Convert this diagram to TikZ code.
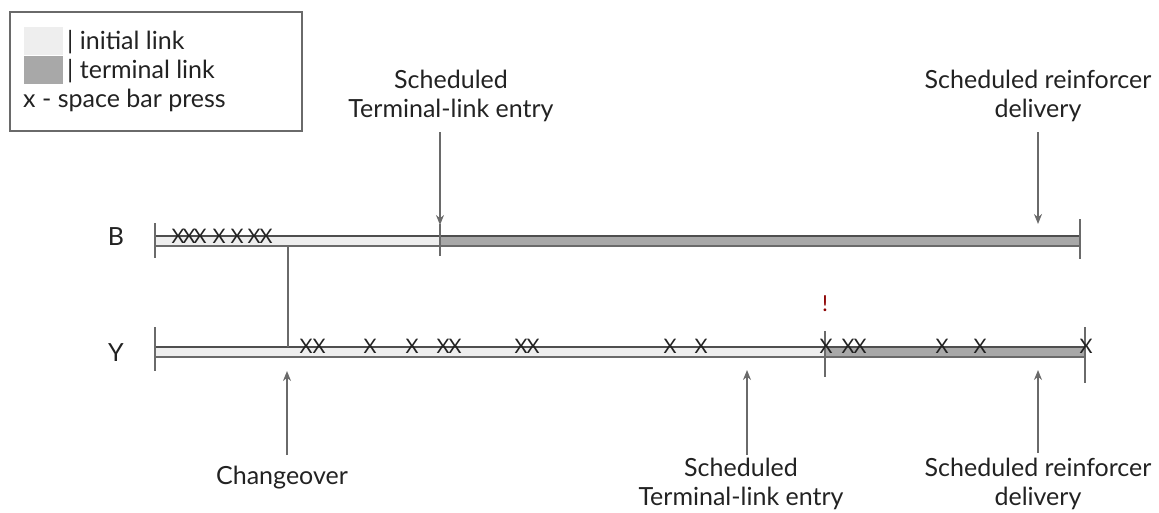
\documentclass[tikz,border=0pt]{standalone}
\usepackage{fontspec}
\setmainfont{Lato}
\usetikzlibrary{arrows.meta}
\definecolor{txt}{HTML}{222222}
\definecolor{lightbar}{HTML}{EEEEEE}
\definecolor{darkbar}{HTML}{A8A8A8}
\definecolor{edge}{HTML}{6A6A6A}
\tikzset{
  lbl/.style={font=\fontsize{25}{29}\selectfont, text=txt, align=center, inner sep=0pt},
  xmark/.style={font=\fontsize{20}{20}\selectfont, text=txt, inner sep=0pt},
  tick/.style={draw=edge, line width=1.6pt},
  ptr/.style={draw=edge, line width=1.6pt, -{Stealth[length=10pt,width=8pt]}},
  barlight/.style={fill=lightbar, draw=edge, line width=1.2pt},
  bardark/.style={fill=darkbar, draw=edge, line width=1.2pt},
}
\begin{document}
\begin{tikzpicture}[x=1pt,y=-1pt]
\useasboundingbox (0,0) rectangle (1159,512);
% legend
\draw[draw=edge, line width=1.5pt] (10,12) rectangle (302,131);
\fill[lightbar] (24,27) rectangle (63,55);
\fill[darkbar] (24,56) rectangle (63,84);
\node[lbl, anchor=west] (li) at (67,42) {| initial link};
\node[lbl, anchor=west] (lt) at (67,71) {| terminal link};
\node[lbl, anchor=west] (lx) at (23,100) {x - space bar press};
% row labels
\node[lbl] (B) at (116,237) {B};
\node[lbl] (Y) at (116,353) {Y};
% B bar
\draw[barlight] (155,236) rectangle (440,246);
\draw[bardark] (440,236) rectangle (1080,246);
\draw[txt!80, line width=1.2pt] (155,236) -- (1080,236);
% Y bar
\draw[barlight] (155,347) rectangle (825,357);
\draw[bardark] (825,347) rectangle (1085,357);
\draw[txt!80, line width=1.2pt] (155,347) -- (1085,347);
% coordinates
\coordinate (b0t) at (155,223); \coordinate (b0b) at (155,258);
\coordinate (b1t) at (440,224); \coordinate (b1b) at (440,256);
\coordinate (b2t) at (1080,219); \coordinate (b2b) at (1080,259);
\coordinate (y0t) at (155,327); \coordinate (y0b) at (155,371);
\coordinate (y1t) at (825,331); \coordinate (y1b) at (825,377);
\coordinate (y2t) at (1085,327); \coordinate (y2b) at (1085,383);
\coordinate (cB) at (288,246); \coordinate (cY) at (288,347);
% ticks
\draw[tick] (b0t) -- (b0b);
\draw[tick] (b1t) -- (b1b);
\draw[tick] (b2t) -- (b2b);
\draw[tick] (y0t) -- (y0b);
\draw[tick] (y1t) -- (y1b);
\draw[tick] (y2t) -- (y2b);
\draw[tick] (cB) -- (cY);
% labels with arrows
\node[lbl] (tB1) at (451,96) {Scheduled\\Terminal-link entry};
\node[lbl] (tB2) at (1038,96) {Scheduled reinforcer\\delivery};
\coordinate (aB1s) at (440,132); \coordinate (aB1e) at (440,225);
\coordinate (aB2s) at (1038,132); \coordinate (aB2e) at (1038,224);
\draw[ptr] (aB1s) -- (aB1e);
\draw[ptr] (aB2s) -- (aB2e);
\node[lbl] (chg) at (282,478) {Changeover};
\node[lbl] (tY1) at (741,484) {Scheduled\\Terminal-link entry};
\node[lbl] (tY2) at (1038,484) {Scheduled reinforcer\\delivery};
\coordinate (aC) at (287,371); \coordinate (aCs) at (287,455);
\coordinate (aY1) at (747,370); \coordinate (aY1s) at (747,455);
\coordinate (aY2) at (1038,370); \coordinate (aY2s) at (1038,453);
\draw[ptr] (aCs) -- (aC);
\draw[ptr] (aY1s) -- (aY1);
\draw[ptr] (aY2s) -- (aY2);
% exclamation
\node[font=\fontsize{22}{22}\selectfont, text=red!55!black, inner sep=0pt] (ex) at (825,304) {!};
% X marks on B
\foreach \x [count=\i] in {178,189,200,219,237,254,266}
  \node[xmark] (xb\i) at (\x,236) {X};
% X marks on Y
\foreach \x [count=\i] in {306,319,370,412,443,455,521,533,670,701,826,848,860,942,980,1086}
  \node[xmark] (xy\i) at (\x,346) {X};
\end{tikzpicture}
\end{document}
